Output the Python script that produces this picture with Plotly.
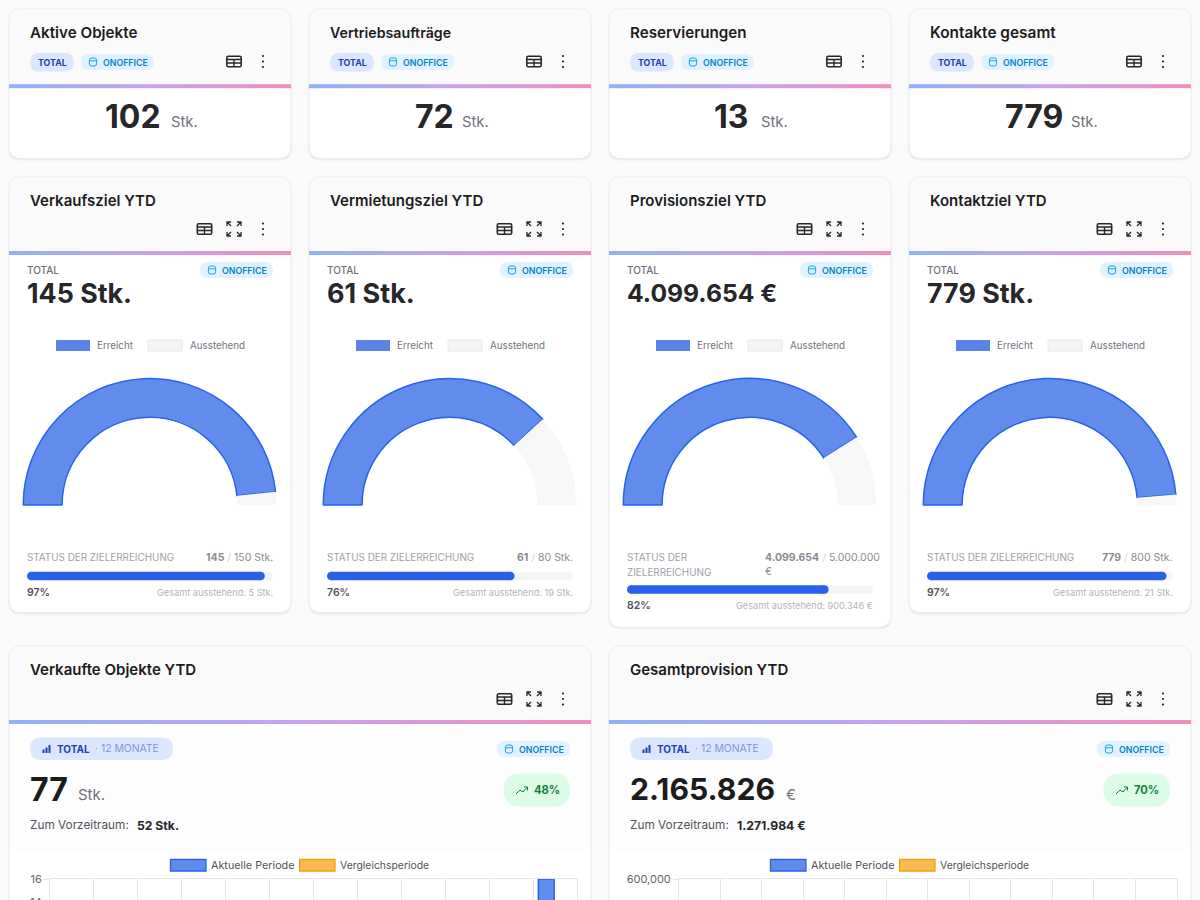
import plotly.graph_objects as go
import numpy as np

# ---- data ----
kpi_titles = ["Aktive Objekte", "Vertriebsaufträge", "Reservierungen", "Kontakte gesamt"]
kpi_values = ["102", "72", "13", "779"]
goal_titles = ["Verkaufsziel YTD", "Vermietungsziel YTD", "Provisionsziel YTD", "Kontaktziel YTD"]
goal_totals = ["145 Stk.", "61 Stk.", "4.099.654 €", "779 Stk."]
goal_reached = [145, 61, 4099654, 779]
goal_open = [5, 19, 900346, 21]
goal_target = [150, 80, 5000000, 800]
goal_reached_txt = ["145", "61", "4.099.654", "779"]
goal_target_txt = ["150 Stk.", "80 Stk.", "5.000.000", "800 Stk."]
goal_pct = ["97%", "76%", "82%", "97%"]
goal_open_txt = ["5 Stk.", "19 Stk.", "900.346 €", "21 Stk."]
chart_titles = ["Verkaufte Objekte YTD", "Gesamtprovision YTD"]
chart_totals = ["77", "2.165.826"]
chart_units = ["Stk.", "€"]
chart_prev = ["52 Stk.", "1.271.984 €"]
chart_growth = ["48%", "70%"]
# Only what the crop shows: the rest of both charts lies below the picture's edge.
months = list(range(12))
sold_current = [None] * 11 + [16]
sold_compare = [None] * 12
comm_current = [None] * 12
comm_compare = [None] * 12
sold_ticks = [16, 14]
comm_ticks = [600000]
gradient_stops = [[0, "#8fb2f4"], [0.5, "#c8a2ee"], [1, "#f08dbd"]]

H = 1100
DARK = "#1c1c1e"
BLUE = "#628ceb"
BLUE_L = "#2563eb"
shapes, notes = [], []


def rr(x0, y0, x1, y1, r, bottom=True):
    p = f"M{x0+r},{y0} L{x1-r},{y0} Q{x1},{y0} {x1},{y0+r} "
    if bottom:
        p += f"L{x1},{y1-r} Q{x1},{y1} {x1-r},{y1} L{x0+r},{y1} Q{x0},{y1} {x0},{y1-r} "
    else:
        p += f"L{x1},{y1} L{x0},{y1} "
    p += f"L{x0},{y0+r} Q{x0},{y0} {x0+r},{y0} Z"
    return p


def S(path, fill="rgba(0,0,0,0)", line="rgba(0,0,0,0)", w=0):
    shapes.append(dict(type="path", path=path, xref="x", yref="y", fillcolor=fill,
                       line=dict(color=line, width=w), layer="below"))


def T(x, y, text, size, color, weight=400, anchor="left", family="Inter"):
    x = x - 1 if anchor == "left" else (x + 0.7 if anchor == "right" else x)
    notes.append(dict(x=x, y=y, xref="x", yref="y", text=text, showarrow=False, xanchor=anchor,
                      yanchor="middle", borderpad=0, align=anchor,
                      font=dict(family=family, size=size, color=color, weight=weight)))


def pill(x0, y0, x1, y1, fill):
    S(rr(x0, y0, x1, y1, (y1 - y0) / 2), fill)


def table_icon(cx, cy):
    c = "#27272a"
    S(rr(cx - 7.2, cy - 5.2, cx + 7.2, cy + 5.2, 1.5), "rgba(0,0,0,0)", c, 1.6)
    S(f"M{cx-7},{cy-2} L{cx+7},{cy-2} M{cx-7},{cy+1.5} L{cx+7},{cy+1.5} M{cx},{cy-2} L{cx},{cy+5}", line=c, w=1.4)


def kebab(cx, cy):
    for d in (-5.5, 0, 5.5):
        S(rr(cx - 1.1, cy + d - 1.1, cx + 1.1, cy + d + 1.1, 1.05), "#27272a")


def expand(cx, cy):
    c = "#27272a"
    a, b = 7, 3
    for sx, sy in ((-1, -1), (1, -1), (-1, 1), (1, 1)):
        S(f"M{cx+sx*a},{cy+sy*(a-4)} L{cx+sx*a},{cy+sy*a} L{cx+sx*(a-4)},{cy+sy*a} "
          f"M{cx+sx*a},{cy+sy*a} L{cx+sx*b},{cy+sy*b}", line=c, w=1.3)


def onoffice(x0, y0):
    pill(x0, y0, x0 + 73, y0 + 16, "#e0f2fe")
    c = "#0ea5e9"
    ix = x0 + 12
    iy = y0 + 8
    S(rr(ix - 3.6, iy - 4, ix + 3.6, iy + 4, 2.2), line=c, w=1)
    S(f"M{ix-3.4},{iy-1.2} L{ix+3.4},{iy-1.2}", line=c, w=1)
    T(x0 + 21.5, iy, "ONOFFICE", 8.8, "#0284c7", 600)


def card(x0, y0, x1, y1, strip_y):
    for d, a in ((3, .012), (2, .025), (1, .04)):
        S(rr(x0 - .5, y0, x1 + .5, y1 + d, 12), f"rgba(0,0,0,{a})")
    S(rr(x0, y0, x1, y1, 12), "#ffffff", "#ececec", 1)
    S(rr(x0 + .5, y0 + .5, x1 - .5, strip_y, 12, bottom=False), "#fafafa")


traces = []


def strip(x0, x1, y0, y1):
    n = 64
    traces.append(go.Heatmap(z=[list(range(n))], x=np.linspace(x0, x1, n + 1), y=[y0, y1],
                             colorscale=gradient_stops, showscale=False, hoverinfo="skip",
                             xaxis="x", yaxis="y"))


col_x = [0, 300, 600, 900]

# ---- KPI row ----
num_x = [105, 415, 714, 1005]
unit_x = [171, 462, 761, 1071]
kpi_title_size = [15.2, 14.2, 15.2, 15.4]
for i, dx in enumerate(col_x):
    card(9 + dx, 9, 291 + dx, 158.5, 84)
    strip(9 + dx, 291 + dx, 84.2, 87.8)
    T(30 + dx, 32.5, kpi_titles[i], kpi_title_size[i], DARK, 600)
    pill(30 + dx, 53, 74 + dx, 71.5, "#dbe7fe")
    T(52 + dx, 62.2, "TOTAL", 8.8, "#1e40af", 700, "center")
    onoffice(81 + dx, 54)
    table_icon(234 + dx, 61.5)
    kebab(263 + dx, 61.5)
    T(num_x[i], 116, kpi_values[i], 32, "#27272a", 700)
    T(unit_x[i], 122, "Stk.", 14.8, "#71717a", 400)

# ---- goal row ----
goal_bottom = [612.7, 612.7, 627.3, 612.7]
goal_total_size = [26.8, 27, 24.7, 26.8]
for i, dx in enumerate(col_x):
    card(9 + dx, 177, 291 + dx, goal_bottom[i], 251)
    strip(9 + dx, 291 + dx, 251, 254.5)
    T(30 + dx, 200, goal_titles[i], 15, DARK, 600)
    table_icon(204.5 + dx, 229)
    expand(234 + dx, 229)
    kebab(263 + dx, 229)
    T(27 + dx, 270, "TOTAL", 10, "#71717a", 500)
    onoffice(200 + dx, 262)
    T(27 + dx, 293, goal_totals[i], goal_total_size[i], "#27272a", 700)
    S(f"M{56+dx},340 H{90+dx} V351 H{56+dx} Z", "#5b82e6")
    S(f"M{148+dx},340 H{182+dx} V351 H{148+dx} Z", "#f5f5f5", "#e8e8e8", 1)
    T(97 + dx, 345.5, "Erreicht", 9.8, "#71717a")
    T(189.5 + dx, 345.5, "Ausstehend", 9.8, "#71717a")
    if i == 2:
        T(27 + dx, 557, "STATUS DER", 9.9, "#a1a1aa")
        T(27 + dx, 571.5, "ZIELERREICHUNG", 9.9, "#a1a1aa")
        T(165 + dx, 557.5, f"<b>{goal_reached_txt[i]}</b><span style='color:#d4d4d8'> / </span>{goal_target_txt[i]}",
          10.5, "#8b8b93")
        T(165 + dx, 571.5, "€", 10.5, "#8b8b93")
        py = 605.7
    else:
        T(27 + dx, 557, "STATUS DER ZIELERREICHUNG", 9.9, "#a1a1aa")
        T(273 + dx, 557, f"<b>{goal_reached_txt[i]}</b><span style='color:#d4d4d8'> / </span>{goal_target_txt[i]}",
          10.5, "#8b8b93", anchor="right")
        py = 592
    T(27 + dx, py, goal_pct[i], 10.5, "#52525b", 600)
    T(273 + dx, py, f"Gesamt ausstehend: {goal_open_txt[i]}", 9.2, "#b4b4bb", anchor="right")

# ---- chart row ----
chart_dx = [0, 600]
unit_pos = [78, 786]
prev_pos = [136.5, 736.5]
total_size = [32, 30.2]
for i, dx in enumerate(chart_dx):
    card(9 + dx, 646, 591 + dx, 1095, 720)
    strip(9 + dx, 591 + dx, 720, 723.6)
    S(f"M{10+dx},724 H{590+dx} V851 H{10+dx} Z", "#fdfdfd")
    T(30 + dx, 669.5, chart_titles[i], 15, DARK, 600)
    table_icon(504.5 + dx, 699)
    expand(534 + dx, 699)
    kebab(563 + dx, 699)
    pill(30 + dx, 737.5, 173 + dx, 760, "#dbe7fe")
    for bx, bh in ((42.5, 3.5), (45.5, 5.5), (48.5, 8)):
        S(f"M{bx+dx},{753-bh} H{bx+dx+2} V753 H{bx+dx} Z", "#1e40af")
    T(57 + dx, 748.7, "TOTAL", 10, "#1e40af", 700)
    T(94.5 + dx, 748.7, "· 12 MONATE", 10.4, "#7f95dc", 400)
    onoffice(497 + dx, 741)
    T(30 + dx, 789, chart_totals[i], total_size[i], DARK, 700)
    T(unit_pos[i], 794, chart_units[i], 15, "#71717a", 400)
    T(30 + dx, 825, "Zum Vorzeitraum:", 11.8, "#52525b")
    T(prev_pos[i], 825, chart_prev[i], 12.2, "#27272a", 700)
    pill(503.5 + dx, 773.5, 570 + dx, 806.5, "#dcfce7")
    S(f"M{516+dx},794 L{520+dx},790 L{523+dx},792 L{527.5+dx},787 M{524+dx},787 L{527.5+dx},787 L{527.5+dx},790.5",
      line="#15803d", w=1)
    T(534 + dx, 790, chart_growth[i], 11.2, "#15803d", 700)
    S(f"M{170.5+dx},859.5 H{206+dx} V871 H{170.5+dx} Z", BLUE, BLUE_L, 1.3)
    T(211 + dx, 865.2, "Aktuelle Periode", 10.8, "#52525b")
    S(f"M{299.7+dx},859.5 H{335+dx} V871 H{299.7+dx} Z", "#fbb954", "#f59e0b", 1.3)
    T(340 + dx, 865.2, "Vergleichsperiode", 10.4, "#52525b")

layout = dict(
    template="none",
    width=1200, height=H, margin=dict(l=0, r=0, t=0, b=0, pad=0), showlegend=False,
    paper_bgcolor="#fafafa", plot_bgcolor="rgba(0,0,0,0)", barmode="group", bargap=0.2, bargroupgap=0.1,
    xaxis=dict(range=[0, 1200], domain=[0, 1], visible=False, fixedrange=True),
    yaxis=dict(range=[H, 0], domain=[0, 1], visible=False, fixedrange=True),
)

# ---- gauges + progress bars ----
gauge_cx = 149.75
gauge_cy = 505
gauge_r = 126.5
bar_px = 246
cap_px = 4.25
for i, dx in enumerate(col_x):
    cx = gauge_cx + dx
    traces.append(go.Pie(
        values=[goal_reached[i], goal_open[i], goal_target[i]],
        sort=False, direction="clockwise", rotation=-90, hole=0.693, textinfo="none", hoverinfo="skip",
        domain=dict(x=[(cx - gauge_r) / 1200, (cx + gauge_r) / 1200],
                    y=[1 - (gauge_cy + gauge_r) / H, 1 - (gauge_cy - gauge_r) / H]),
        marker=dict(colors=[BLUE, "#f7f7f7", "rgba(0,0,0,0)"],
                    line=dict(color=[BLUE_L, "#f7f7f7", "rgba(0,0,0,0)"], width=[1.5, 0, 0])),
    ))
    k = i + 2
    mid = 589.5 if i == 2 else 576
    layout[f"xaxis{k}"] = dict(range=[0, goal_target[i]], domain=[(27 + dx) / 1200, (273 + dx) / 1200],
                               visible=False, fixedrange=True, anchor=f"y{k}")
    layout[f"yaxis{k}"] = dict(range=[-0.5, 0.5], domain=[1 - (mid + 5) / H, 1 - (mid - 5) / H],
                               visible=False, fixedrange=True, anchor=f"x{k}")
    cap = cap_px * goal_target[i] / bar_px
    for val, colr in ((goal_target[i], "#f3f4f6"), (goal_reached[i], BLUE_L)):
        traces.append(go.Scatter(x=[cap, val - cap], y=[0, 0], mode="lines+markers", cliponaxis=False,
                                 line=dict(color=colr, width=cap_px * 2),
                                 marker=dict(color=colr, size=cap_px * 2, line=dict(width=0)),
                                 hoverinfo="skip", xaxis=f"x{k}", yaxis=f"y{k}"))

# ---- bar charts ----
chart_cur = [sold_current, comm_current]
chart_cmp = [sold_compare, comm_compare]
chart_ticks = [sold_ticks, comm_ticks]
plot_x = [(50, 577), (679, 1176.7)]
y_range = [16, 600000]
for i in range(2):
    k = i + 6
    x0, x1 = plot_x[i]
    layout[f"xaxis{k}"] = dict(range=[-0.5, 11.5], domain=[x0 / 1200, x1 / 1200], anchor=f"y{k}",
                               tick0=-0.5, dtick=1, showgrid=True, gridcolor="#e5e5e5", gridwidth=1,
                               showticklabels=False, ticks="", zeroline=False, showline=True, mirror=True,
                               linecolor="#e5e5e5", linewidth=1, fixedrange=True)
    layout[f"yaxis{k}"] = dict(range=[0, y_range[i]], domain=[1 - 1063 / H, 1 - 879 / H], anchor=f"x{k}",
                               tickmode="array", tickvals=chart_ticks[i], showgrid=True, gridcolor="#e5e5e5", gridwidth=1,
                               ticks="outside", ticklen=5, tickcolor="#e5e5e5",
                               tickfont=dict(family="Inter", size=11, color="#666666"),
                               tickformat=",d", zeroline=False, showline=True, mirror=True,
                               linecolor="#e5e5e5", linewidth=1, fixedrange=True)
    traces.append(go.Bar(x=months, y=chart_cur[i], marker=dict(color=BLUE, line=dict(color=BLUE_L, width=1.5)),
                         name="Aktuelle Periode", hoverinfo="skip", xaxis=f"x{k}", yaxis=f"y{k}"))
    traces.append(go.Bar(x=months, y=chart_cmp[i], marker=dict(color="#fbb954", line=dict(color="#f59e0b", width=1.5)),
                         name="Vergleichsperiode", hoverinfo="skip", xaxis=f"x{k}", yaxis=f"y{k}"))

layout["shapes"] = shapes
layout["annotations"] = notes
fig = go.Figure(data=traces, layout=layout)

post = """
document.documentElement.style.overflow='hidden';
document.documentElement.style.background='#fafafa';
document.body.style.margin='0';
document.body.style.height='900px';
document.body.style.overflow='hidden';
var g=document.getElementById('{plot_id}');
g.parentElement.style.height='900px';
g.parentElement.style.overflow='hidden';
"""
fig.write_html("out.html", post_script=post, config=dict(displayModeBar=False, staticPlot=True))
